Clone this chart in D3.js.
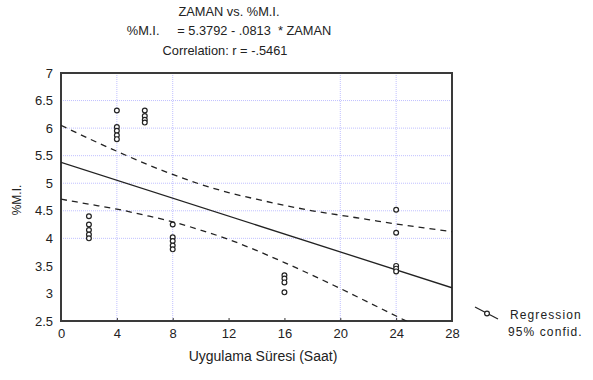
<!DOCTYPE html>
<html>
<head>
<meta charset="utf-8">
<script src="https://cdn.jsdelivr.net/npm/d3@7"></script>
<style>
  body { margin: 0; background: #fff; }
  text { font-family: "Liberation Sans", Arial, sans-serif; fill: #222; }
</style>
</head>
<body>
<svg id="chart"></svg>
<script>
// observed points (ZAMAN, %M.I.)
const zaman = [2, 2, 2, 2, 2,
               4, 4, 4, 4, 4,
               6, 6, 6, 6,
               8, 8, 8, 8, 8,
               16, 16, 16, 16,
               24, 24, 24, 24, 24]
const mi = [4.4, 4.25, 4.15, 4.07, 4.0,
            6.32, 6.02, 5.95, 5.87, 5.8,
            6.32, 6.22, 6.15, 6.1,
            4.25, 4.02, 3.95, 3.87, 3.8,
            3.33, 3.27, 3.2, 3.02,
            4.52, 4.1, 3.5, 3.45, 3.4]

// regression: %M.I. = 5.3792 - .0813 * ZAMAN
const intercept = 5.3792
const slope = -0.0813

// 95% confidence bands
const bandX = [0, 2, 4, 6, 8, 10, 12, 14, 16, 18, 20, 22, 24, 26, 28]
const upper = [6.05, 5.81, 5.58, 5.36, 5.16, 4.98, 4.83, 4.71, 4.60, 4.50, 4.42, 4.34, 4.26, 4.19, 4.12]
const lower = [4.71, 4.62, 4.53, 4.42, 4.30, 4.15, 3.98, 3.78, 3.56, 3.33, 3.09, 2.84, 2.59, 2.34, 2.10]

const xTicks = [0, 4, 8, 12, 16, 20, 24, 28]
const yTicks = [2.5, 3, 3.5, 4, 4.5, 5, 5.5, 6, 6.5, 7]
const xGrid = [4, 8, 20, 24]
const yGrid = [4, 4.5, 5, 5.5, 6, 6.5]

const titles = ["ZAMAN vs. %M.I.",
                "%M.I.     = 5.3792 - .0813  * ZAMAN",
                "Correlation: r = -.5461"]
const legendLabels = ["Regression", "95% confid."]

let width = 593, height = 380
let margin = { top: 73, right: 141, bottom: 59, left: 61 }
let w = width - margin.left - margin.right
let h = height - margin.top - margin.bottom

let svg = d3.select("#chart").attr("width", width).attr("height", height)

let x = d3.scaleLinear().domain([0, 28]).range([0, w])
let y = d3.scaleLinear().domain([2.5, 7]).range([h, 0])

let g = svg.append("g").attr("transform", `translate(${margin.left},${margin.top})`)

g.append("clipPath").attr("id", "clip")
  .append("rect").attr("width", w).attr("height", h)

// grid
g.selectAll(".vg").data(xGrid).join("line")
  .attr("x1", d => x(d)).attr("x2", d => x(d))
  .attr("y1", 0).attr("y2", h)
  .attr("stroke", "#c0c0ff").attr("stroke-width", 1).attr("stroke-dasharray", "1,1")
g.selectAll(".hg").data(yGrid).join("line")
  .attr("x1", 0).attr("x2", w)
  .attr("y1", d => y(d)).attr("y2", d => y(d))
  .attr("stroke", "#c0c0ff").attr("stroke-width", 1).attr("stroke-dasharray", "1,1")

// axes
let xAxis = g.append("g").attr("transform", `translate(0,${h})`)
  .call(d3.axisBottom(x).tickValues(xTicks).tickSize(-3).tickPadding(8))
xAxis.select(".domain").remove()
xAxis.selectAll("text").attr("font-size", 13).attr("fill", "#222")
xAxis.selectAll("line").attr("stroke", "#333")

let yAxis = g.append("g")
  .call(d3.axisLeft(y).tickValues(yTicks).tickFormat(d3.format("")).tickSize(0).tickPadding(8))
yAxis.select(".domain").remove()
yAxis.selectAll("text").attr("font-size", 13).attr("fill", "#222")

g.append("rect").attr("width", w).attr("height", h)
  .attr("fill", "none").attr("stroke", "#3a3a3a").attr("stroke-width", 2)

let plot = g.append("g").attr("clip-path", "url(#clip)")

let line = d3.line().x(d => x(d[0])).y(d => y(d[1]))

plot.append("path")
  .datum([[0, intercept], [28, intercept + slope * 28]])
  .attr("fill", "none").attr("stroke", "#222").attr("stroke-width", 1.3)
  .attr("d", line)

let bandLine = d3.line().curve(d3.curveMonotoneX).x(d => x(d[0])).y(d => y(d[1]))

plot.append("path")
  .datum(d3.zip(bandX, upper))
  .attr("fill", "none").attr("stroke", "#222").attr("stroke-width", 1.3)
  .attr("stroke-dasharray", "6,5")
  .attr("d", bandLine)

plot.append("path")
  .datum(d3.zip(bandX, lower))
  .attr("fill", "none").attr("stroke", "#222").attr("stroke-width", 1.3)
  .attr("stroke-dasharray", "6,5")
  .attr("d", bandLine)

g.selectAll(".pt").data(d3.zip(zaman, mi)).join("circle")
  .attr("cx", d => x(d[0])).attr("cy", d => y(d[1]))
  .attr("r", 2.4)
  .attr("fill", "#fff").attr("stroke", "#222").attr("stroke-width", 1.2)

// titles
svg.selectAll(".title").data(titles).join("text")
  .attr("x", (d, i) => i == 2 ? 225 : 229)
  .attr("y", (d, i) => 15.5 + i * 19.5)
  .attr("text-anchor", "middle")
  .attr("font-size", 12.8)
  .attr("xml:space", "preserve")
  .style("white-space", "pre")
  .text(d => d)

// axis titles
svg.append("text")
  .attr("x", 263).attr("y", 361)
  .attr("text-anchor", "middle").attr("font-size", 14)
  .text("Uygulama Süresi (Saat)")

svg.append("text")
  .attr("transform", "translate(21,200) rotate(-90)")
  .attr("text-anchor", "middle").attr("font-size", 12)
  .text("%M.I.")

// legend
let lg = svg.append("g")
lg.append("line")
  .attr("x1", 475).attr("y1", 307).attr("x2", 498).attr("y2", 319)
  .attr("stroke", "#222").attr("stroke-width", 1.2)
lg.append("circle").attr("cx", 487).attr("cy", 313.5).attr("r", 2.4)
  .attr("fill", "#fff").attr("stroke", "#222").attr("stroke-width", 1.2)
lg.selectAll(".lt").data(legendLabels).join("text")
  .attr("x", (d, i) => i == 0 ? 510 : 508).attr("y", (d, i) => 319 + i * 17)
  .attr("font-size", 12).attr("letter-spacing", 1.1)
  .text(d => d)
</script>
</body>
</html>
